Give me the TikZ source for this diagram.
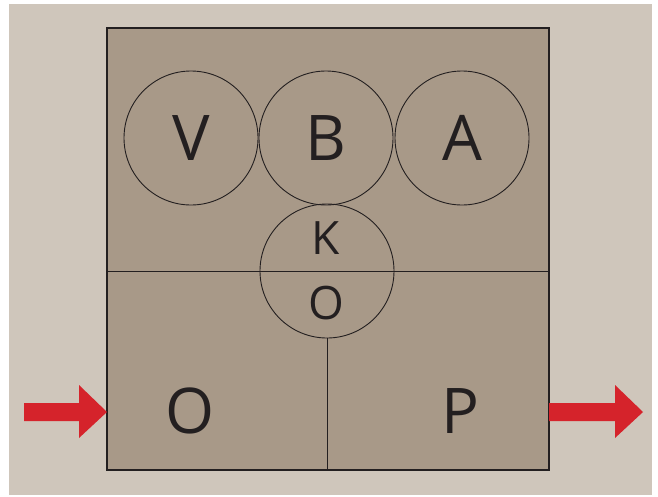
\documentclass[tikz,border=0pt]{standalone}
\usepackage{fontspec}
\setmainfont{Open Sans}
\definecolor{paper}{RGB}{207,198,187}
\definecolor{boxfill}{RGB}{168,153,136}
\definecolor{ink}{RGB}{35,31,32}
\definecolor{flowred}{RGB}{213,35,43}

\begin{document}
\begin{tikzpicture}[x=1pt, y=-1pt,
  zone/.style={circle, draw=ink, line width=0.9pt, minimum size=134pt, inner sep=0pt},
  big/.style={font=\fontsize{63}{63}\selectfont, text=ink, inner sep=0pt},
  small/.style={font=\fontsize{46}{46}\selectfont, text=ink, inner sep=0pt},
  flow/.style={fill=flowred}
]
  \useasboundingbox (0,0) rectangle (658,496);
  \fill[white] (0,0) rectangle (658,496);
  \fill[paper] (9,4) rectangle (652,495);

  % outer box
  \node[draw=ink, line width=1.2pt, fill=boxfill, minimum width=442pt, minimum height=442pt, inner sep=0pt] (box) at (328,249) {};

  % circles on top
  \node[zone] (v) at (191,138) {};
  \node[zone] (b) at (326,138) {};
  \node[zone] (a) at (462,138) {};
  \node[zone] (ko) at (327,271) {};

  \node[big] at (v.center) {V};
  \node[big] at (b.center) {B};
  \node[big] at (a.center) {A};
  \node[small] (k) at (326,238) {K};
  \node[small] (o1) at (326,303) {O};

  % dividers
  \draw[ink, line width=0.9pt] (box.west |- ko.center) -- (box.east |- ko.center);
  \draw[ink, line width=0.9pt] (ko.south) -- (ko.south |- box.south);

  \node[big] (o2) at (190,411) {O};
  \node[big] (p) at (460,411) {P};

  % in and out
  \fill[flow] (24,403) -- (79,403) -- (79,385) -- (107,412) -- (79,438) -- (79,421) -- (24,421) -- cycle;
  \fill[flow] (549,403) -- (615,403) -- (615,385) -- (643,412) -- (615,438) -- (615,421) -- (549,421) -- cycle;
\end{tikzpicture}
\end{document}
